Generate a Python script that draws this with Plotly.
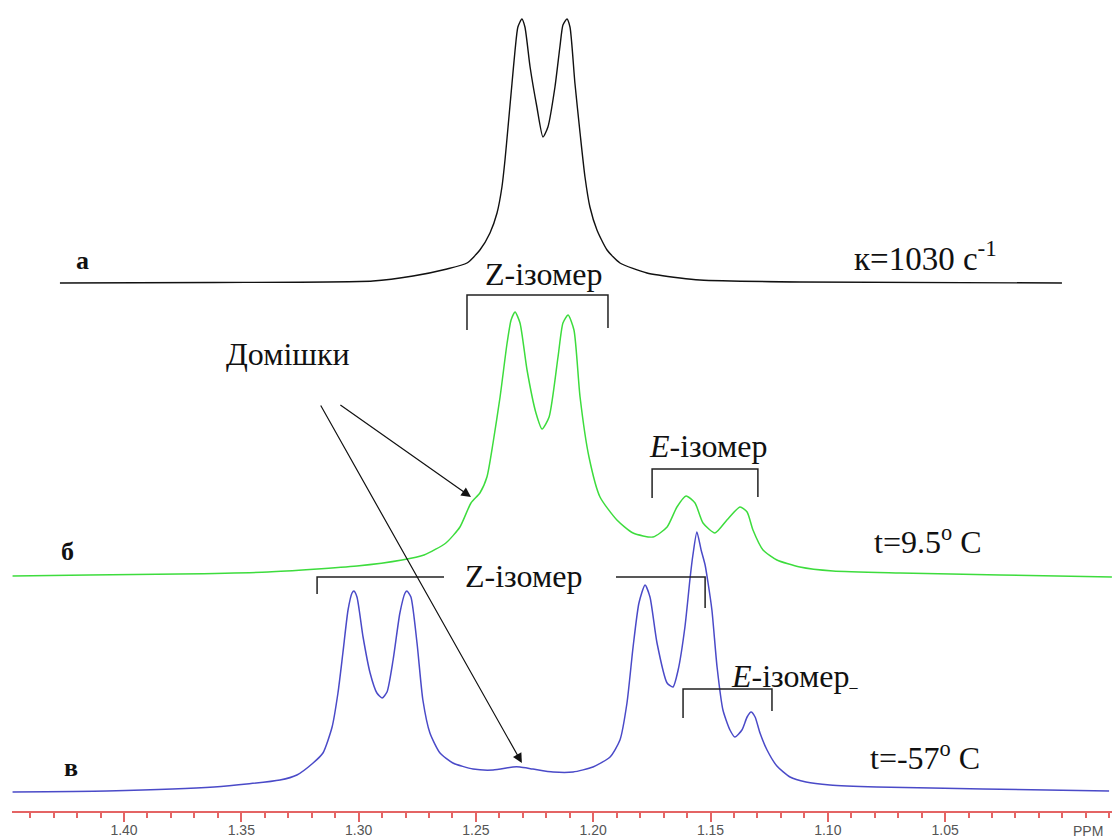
import plotly.graph_objects as go

# ---------------- data (ppm, intensity above each trace's own baseline) -------------
a_ppm = [1.4273, 1.3616, 1.2939, 1.2768, 1.2623, 1.2538, 1.2483, 1.2440, 1.2410, 1.2389,
         1.2376, 1.2363, 1.2346, 1.2333, 1.2321, 1.2304, 1.2291, 1.2269, 1.2240, 1.2214,
         1.2193, 1.2163, 1.2142, 1.2129, 1.2112, 1.2099, 1.2078, 1.2056, 1.2035, 1.2014,
         1.1984, 1.1941, 1.1886, 1.1771, 1.1630, 1.1545, 1.1119, 1.0002]
a_int = [0, 0.5, 2, 7, 14, 20, 33, 50, 70, 96,
         123, 156, 200, 233, 256, 264, 256, 216, 176, 146,
         156, 196, 236, 258, 264, 256, 200, 150, 106, 76,
         53, 33, 20, 10, 5, 3, 1, 0]

b_ppm = [1.4475, 1.4149, 1.3766, 1.3386, 1.3007, 1.2815, 1.2721, 1.2628, 1.2568, 1.2521,
         1.2483, 1.2453, 1.2427, 1.2397, 1.2367, 1.2350, 1.2333, 1.2312, 1.2282, 1.2244,
         1.2218, 1.2188, 1.2150, 1.2129, 1.2107, 1.2082, 1.2056, 1.2018, 1.1971, 1.1899,
         1.1830, 1.1745, 1.1685, 1.1643, 1.1604, 1.1566, 1.1532, 1.1481, 1.1430, 1.1374,
         1.1344, 1.1319, 1.1276, 1.1217, 1.1119, 1.0978, 1.0692, 1.0266, 0.9789]
b_int = [1, 2, 3, 5, 11, 17, 22, 34, 50, 74,
         84, 100, 134, 180, 234, 257, 265, 254, 207, 164,
         148, 160, 220, 254, 262, 247, 180, 120, 80, 57,
         44, 40, 50, 70, 81, 74, 54, 44, 57, 70,
         65, 47, 27, 17, 10, 6, 4, 2, 0]

c_ppm = [1.4475, 1.4073, 1.3616, 1.3335, 1.3263, 1.3194, 1.3152, 1.3113, 1.3088, 1.3067,
         1.3045, 1.3028, 1.3020, 1.3007, 1.2981, 1.2951, 1.2922, 1.2900, 1.2879, 1.2853,
         1.2824, 1.2802, 1.2794, 1.2777, 1.2751, 1.2726, 1.2696, 1.2653, 1.2598, 1.2512,
         1.2427, 1.2342, 1.2312, 1.2257, 1.2171, 1.2086, 1.2001, 1.1928, 1.1886, 1.1856,
         1.1830, 1.1805, 1.1779, 1.1758, 1.1728, 1.1685, 1.1660, 1.1638, 1.1609, 1.1587,
         1.1575, 1.1558, 1.1540, 1.1523, 1.1511, 1.1494, 1.1472, 1.1447, 1.1417, 1.1396,
         1.1366, 1.1344, 1.1327, 1.1310, 1.1289, 1.1259, 1.1217, 1.1161, 1.1093, 1.0991,
         1.0791, 1.0339, 0.9801]
c_int = [1, 2, 6, 13, 18, 30, 40, 66, 100, 140,
         183, 200, 202, 196, 156, 120, 100, 95, 101, 133,
         180, 200, 202, 196, 150, 93, 60, 40, 30, 24,
         23, 26, 26, 24, 21, 21, 26, 36, 53, 90,
         146, 190, 208, 196, 150, 110, 106, 123, 166, 215,
         238, 261, 243, 228, 211, 183, 126, 83, 63, 56,
         63, 76, 81, 76, 60, 43, 27, 16, 11, 8,
         6, 4, 2]

# stacking offsets of the three spectra
offset_a, offset_b, offset_c = 528, 234, 18

tick_vals = [1.40, 1.35, 1.30, 1.25, 1.20, 1.15, 1.10, 1.05]
tick_text = ["1.40", "1.35", "1.30", "1.25", "1.20", "1.15", "1.10", "1.05"]

# ---------------- figure ----------------
SERIF = "Liberation Serif, Times New Roman, serif"
SANS = "Liberation Sans, Arial, sans-serif"
fig = go.Figure()
fig.add_trace(go.Scatter(x=a_ppm, y=[v + offset_a for v in a_int], mode="lines",
                         line=dict(color="#111111", width=1.4, shape="spline", smoothing=0.6),
                         hoverinfo="skip"))
fig.add_trace(go.Scatter(x=b_ppm, y=[v + offset_b for v in b_int], mode="lines",
                         line=dict(color="#3ddc3d", width=1.5, shape="spline", smoothing=0.6),
                         hoverinfo="skip"))
fig.add_trace(go.Scatter(x=c_ppm, y=[v + offset_c for v in c_int], mode="lines",
                         line=dict(color="#4a4ac8", width=1.5, shape="spline", smoothing=0.6),
                         hoverinfo="skip"))

def bracket(x1, x2, ytop, yl, yr):
    return dict(type="path", xref="x", yref="y",
                path=f"M {x1},{yl} L {x1},{ytop} L {x2},{ytop} L {x2},{yr}",
                line=dict(color="#222222", width=1.5))

shapes = [
    bracket(1.2538, 1.1937, 516, 481, 483),
    bracket(1.1749, 1.1298, 342, 313, 314),
    bracket(1.1617, 1.1238, 122, 93, 100),
    dict(type="path", xref="x", yref="y", path="M 1.3177,217 L 1.3177,234 L 1.2636,234",
         line=dict(color="#222222", width=1.5)),
    dict(type="path", xref="x", yref="y", path="M 1.1903,234 L 1.1523,234 L 1.1523,203",
         line=dict(color="#222222", width=1.5)),
]

def txt(x, y, s, size=32, bold=False, xanchor="center"):
    return dict(x=x, y=y, xref="x", yref="y", text=(f"<b>{s}</b>" if bold else s),
                showarrow=False, xanchor=xanchor, yanchor="middle",
                font=dict(family=SERIF, size=size, color="#111111"))

annotations = [
    txt(1.4179, 551, "а", 26, True),
    txt(1.4239, 260, "б", 26, True),
    txt(1.4226, 44, "в", 26, True),
    txt(1.0897, 555, "к=1030 с<sup>-1</sup>", 33, False, "left"),
    txt(1.2214, 537, "Z-ізомер"),
    txt(1.3299, 457, "Домішки"),
    txt(1.1511, 365, "<i>E</i>-ізомер"),
    txt(1.0812, 271, "t=9.5<sup>o</sup> C", 32, False, "left"),
    txt(1.2299, 235, "Z-ізомер"),
    txt(1.1421, 135, "<i>E</i>-ізомер<span style='font-size:16px'>_</span>", 32, False, "left"),
    txt(1.0829, 55, "t=-57<sup>o</sup> C", 32, False, "left"),
    dict(x=1.2304, y=48, ax=1.3165, ay=407, xref="x", yref="y", axref="x", ayref="y",
         text="", showarrow=True, arrowhead=2, arrowsize=1.6, arrowwidth=1.2, arrowcolor="#111111"),
    dict(x=1.2521, y=314, ax=1.3084, ay=407, xref="x", yref="y", axref="x", ayref="y",
         text="", showarrow=True, arrowhead=2, arrowsize=1.6, arrowwidth=1.2, arrowcolor="#111111"),
    dict(x=0.9891, y=0, xref="x", yref="y", text="PPM", showarrow=False,
         xanchor="center", yanchor="top", yshift=-10,
         font=dict(family=SANS, size=14, color="#555555")),
]

RED = "#e46464"
fig.update_layout(
    width=1112, height=839,
    margin=dict(l=12, r=0, t=0, b=28),
    paper_bgcolor="white", plot_bgcolor="white",
    showlegend=False,
    shapes=shapes, annotations=annotations,
    xaxis=dict(range=[1.44774, 0.97886], showline=True, linecolor=RED, linewidth=1.5,
               ticks="outside", ticklen=9, tickwidth=1.5, tickcolor=RED,
               tickmode="array", tickvals=tick_vals, ticktext=tick_text,
               tickfont=dict(family=SANS, size=14, color="#555555"),
               ticklabelstandoff=-4,
               showgrid=False, zeroline=False, automargin=False,
               minor=dict(ticks="outside", ticklen=5, tickwidth=1.5, tickcolor=RED,
                          tick0=1.0, dtick=0.01, showgrid=False)),
    yaxis=dict(range=[0, 811], visible=False, showgrid=False, zeroline=False,
               automargin=False),
)

fig.write_html("out.html", config={"displayModeBar": False},
               post_script="document.body.style.margin='0';document.body.style.overflow='hidden';")
